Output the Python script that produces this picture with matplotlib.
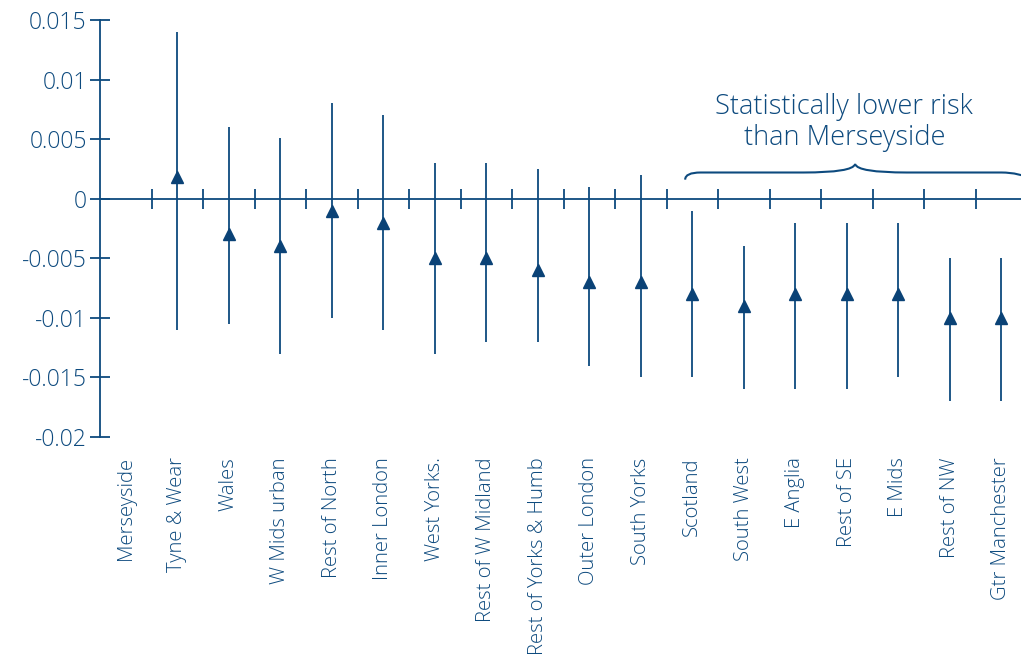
import matplotlib.pyplot as plt
from matplotlib.path import Path
from matplotlib.patches import PathPatch
import numpy as np

plt.rcParams['font.family'] = ['Open Sans', 'DejaVu Sans']
plt.rcParams['font.weight'] = 'light'

regions = ['Merseyside', 'Tyne & Wear', 'Wales', 'W Mids urban', 'Rest of North',
           'Inner London', 'West Yorks.', 'Rest of W Midland', 'Rest of Yorks & Humb',
           'Outer London', 'South Yorks', 'Scotland', 'South West', 'E Anglia',
           'Rest of SE', 'E Mids', 'Rest of NW', 'Gtr Manchester']
# Merseyside is the reference category (no estimate)
estimate = [np.nan, 0.0018, -0.003, -0.004, -0.001, -0.002, -0.005, -0.005, -0.006,
            -0.007, -0.007, -0.008, -0.009, -0.008, -0.008, -0.008, -0.010, -0.010]
lower = [np.nan, -0.011, -0.0105, -0.013, -0.010, -0.011, -0.013, -0.012, -0.012,
         -0.014, -0.015, -0.015, -0.016, -0.016, -0.016, -0.015, -0.017, -0.017]
upper = [np.nan, 0.014, 0.006, 0.0051, 0.008, 0.007, 0.003, 0.003, 0.0025,
         0.001, 0.002, -0.001, -0.004, -0.002, -0.002, -0.002, -0.005, -0.005]
yticks = [0.015, 0.01, 0.005, 0, -0.005, -0.01, -0.015, -0.02]
ytick_labels = ['0.015', '0.01', '0.005', '0', '-0.005', '-0.01', '-0.015', '-0.02']

col = '#0d4a7e'

fig = plt.figure(figsize=(10.21, 6.59), dpi=100)
ax = fig.add_axes([100 / 1021, 1 - 437 / 659, 921 / 1021, 417 / 659])

x = np.arange(len(regions))
est = np.array(estimate)
lo = np.array(lower)
hi = np.array(upper)
ax.vlines(x, lo, hi, color=col, lw=1.3)
ax.plot(x, est, ls='none', marker='^', ms=8.5, color='#0a4276')

ax.set_xlim(-0.5, 17.38)
ax.set_ylim(-0.02, 0.015)

# y axis on the left, x axis running through zero
for s in ['top', 'right']:
    ax.spines[s].set_visible(False)
ax.spines['left'].set_color(col)
ax.spines['left'].set_linewidth(1.3)
ax.spines['bottom'].set_position(('data', 0))
ax.spines['bottom'].set_color(col)
ax.spines['bottom'].set_linewidth(1.3)

ax.set_yticks(yticks)
ax.set_yticklabels(ytick_labels)
ax.tick_params(axis='y', direction='inout', length=15, width=1.3, color=col,
               labelcolor=col, labelsize=16.5, pad=2)

# tick marks between categories on the zero line
ax.set_xticks(np.arange(0.5, 17, 1))
ax.set_xticklabels([])
ax.tick_params(axis='x', direction='inout', length=15, width=1.3, color=col)

# category labels below the plot
for i, name in enumerate(regions):
    ax.text(i, -0.0217, name, rotation=90, ha='center', va='top',
            fontsize=14.6, color=col)

# curly brace over the significant group
bx0, bxm, bx1 = 10.86, 14.16, 17.6
verts = [(bx0, 0.0016), (bx0, 0.0022), (bx0 + 0.3, 0.0022), (bx0 + 1.0, 0.0022),
         (bxm - 1.0, 0.0022), (bxm - 0.05, 0.0022), (bxm, 0.0029),
         (bxm + 0.05, 0.0022), (bxm + 1.0, 0.0022), (bx1 - 0.6, 0.0022),
         (bx1 - 0.25, 0.0022), (bx1, 0.0016)]
codes = [Path.MOVETO, Path.CURVE3, Path.CURVE3, Path.LINETO, Path.LINETO,
         Path.CURVE3, Path.CURVE3, Path.CURVE3, Path.CURVE3, Path.LINETO,
         Path.CURVE3, Path.CURVE3]
ax.add_patch(PathPatch(Path(verts, codes), fill=False, edgecolor=col, lw=1.5,
                       clip_on=False))
ax.text(13.95, 0.0064, 'Statistically lower risk\nthan Merseyside', ha='center',
        va='center', fontsize=19.6, color=col, linespacing=1.12)

fig.savefig('out.png', dpi=100)
